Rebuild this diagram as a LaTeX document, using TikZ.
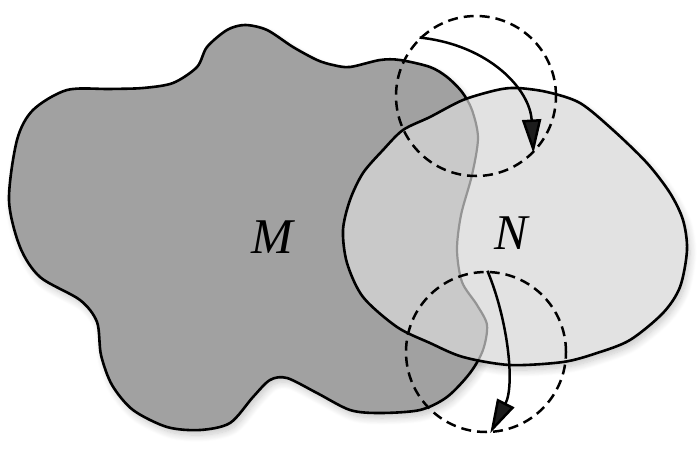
\documentclass[tikz,border=0pt]{standalone}
\usepackage{fontspec}
\newfontfamily\labfont{Liberation Serif}
\usetikzlibrary{arrows.meta,shadows.blur}
\definecolor{mfill}{gray}{0.63}
\definecolor{nfill}{gray}{0.885}
\definecolor{ofill}{gray}{0.79}
\definecolor{mline}{gray}{0.58}
\begin{document}
\begin{tikzpicture}[x=1pt,y=-1pt,
  outline/.style={draw=black,line width=2.6pt},
  softshadow/.style={blur shadow={shadow xshift=3pt,shadow yshift=-5pt,shadow blur radius=7pt,shadow blur steps=10,shadow opacity=22}},
  dashcirc/.style={circle,draw=black,dash pattern=on 10pt off 6pt,line width=2.5pt,minimum size=160pt,inner sep=0pt},
  flow/.style={line width=2.5pt,-{Triangle[length=34pt,width=19pt]}},
  lab/.style={font=\labfont\itshape\fontsize{50}{50}\selectfont,inner sep=0pt}]
\useasboundingbox (0,0) rectangle (700,457);
% shadows first
\path[softshadow] plot[smooth cycle] coordinates {(67,90) (33,110) (17,140) (9,200) (20,247) (40,277) (80,300) (97,322) (101,355) (112,385) (133,410) (167,427) (200,430) (230,423) (253,397) (270,380) (287,378) (317,393) (350,410) (380,413) (420,410) (447,397) (470,373) (483,350) (487,325) (477,305) (462,282) (457,250) (461,215) (472,175) (478,138) (472,110) (462,92) (447,77) (430,67) (400,60) (380,60) (350,67) (333,65) (317,60) (293,47) (267,30) (245,25) (227,30) (207,47) (197,67) (173,83) (143,88) (110,89)};
\path[softshadow] plot[smooth cycle] coordinates {(343,230) (350,200) (363,173) (383,150) (403,130) (430,117) (463,100) (497,90) (517,88) (547,92) (580,103) (613,130) (647,163) (670,193) (683,220) (687,250) (680,287) (663,313) (630,340) (597,353) (563,362) (510,365) (463,357) (430,343) (397,327) (363,297) (347,263)};
% M blob
\fill[mfill] plot[smooth cycle] coordinates {(67,90) (33,110) (17,140) (9,200) (20,247) (40,277) (80,300) (97,322) (101,355) (112,385) (133,410) (167,427) (200,430) (230,423) (253,397) (270,380) (287,378) (317,393) (350,410) (380,413) (420,410) (447,397) (470,373) (483,350) (487,325) (477,305) (462,282) (457,250) (461,215) (472,175) (478,138) (472,110) (462,92) (447,77) (430,67) (400,60) (380,60) (350,67) (333,65) (317,60) (293,47) (267,30) (245,25) (227,30) (207,47) (197,67) (173,83) (143,88) (110,89)};
\draw[outline] plot[smooth cycle] coordinates {(67,90) (33,110) (17,140) (9,200) (20,247) (40,277) (80,300) (97,322) (101,355) (112,385) (133,410) (167,427) (200,430) (230,423) (253,397) (270,380) (287,378) (317,393) (350,410) (380,413) (420,410) (447,397) (470,373) (483,350) (487,325) (477,305) (462,282) (457,250) (461,215) (472,175) (478,138) (472,110) (462,92) (447,77) (430,67) (400,60) (380,60) (350,67) (333,65) (317,60) (293,47) (267,30) (245,25) (227,30) (207,47) (197,67) (173,83) (143,88) (110,89)};
% N egg
\fill[nfill] plot[smooth cycle] coordinates {(343,230) (350,200) (363,173) (383,150) (403,130) (430,117) (463,100) (497,90) (517,88) (547,92) (580,103) (613,130) (647,163) (670,193) (683,220) (687,250) (680,287) (663,313) (630,340) (597,353) (563,362) (510,365) (463,357) (430,343) (397,327) (363,297) (347,263)};
\begin{scope}
\clip plot[smooth cycle] coordinates {(343,230) (350,200) (363,173) (383,150) (403,130) (430,117) (463,100) (497,90) (517,88) (547,92) (580,103) (613,130) (647,163) (670,193) (683,220) (687,250) (680,287) (663,313) (630,340) (597,353) (563,362) (510,365) (463,357) (430,343) (397,327) (363,297) (347,263)};
\fill[ofill] plot[smooth cycle] coordinates {(67,90) (33,110) (17,140) (9,200) (20,247) (40,277) (80,300) (97,322) (101,355) (112,385) (133,410) (167,427) (200,430) (230,423) (253,397) (270,380) (287,378) (317,393) (350,410) (380,413) (420,410) (447,397) (470,373) (483,350) (487,325) (477,305) (462,282) (457,250) (461,215) (472,175) (478,138) (472,110) (462,92) (447,77) (430,67) (400,60) (380,60) (350,67) (333,65) (317,60) (293,47) (267,30) (245,25) (227,30) (207,47) (197,67) (173,83) (143,88) (110,89)};
\draw[mline,line width=2.2pt] plot[smooth cycle] coordinates {(67,90) (33,110) (17,140) (9,200) (20,247) (40,277) (80,300) (97,322) (101,355) (112,385) (133,410) (167,427) (200,430) (230,423) (253,397) (270,380) (287,378) (317,393) (350,410) (380,413) (420,410) (447,397) (470,373) (483,350) (487,325) (477,305) (462,282) (457,250) (461,215) (472,175) (478,138) (472,110) (462,92) (447,77) (430,67) (400,60) (380,60) (350,67) (333,65) (317,60) (293,47) (267,30) (245,25) (227,30) (207,47) (197,67) (173,83) (143,88) (110,89)};
\end{scope}
\draw[outline] plot[smooth cycle] coordinates {(343,230) (350,200) (363,173) (383,150) (403,130) (430,117) (463,100) (497,90) (517,88) (547,92) (580,103) (613,130) (647,163) (670,193) (683,220) (687,250) (680,287) (663,313) (630,340) (597,353) (563,362) (510,365) (463,357) (430,343) (397,327) (363,297) (347,263)};
% labels
\node[lab] (M) at (272,237) {M};
\node[lab] (N) at (511,233) {N};
% dashed circles and arrows
\node[dashcirc] (c1) at (476,96) {};
\node[dashcirc] (c2) at (486,352) {};
\draw[flow] (c1.134) .. controls (490,45) and (530,90) .. (c1.-45);
\draw[flow] (c2.89) .. controls (508,320) and (515,385) .. (c2.-87);
\end{tikzpicture}
\end{document}
